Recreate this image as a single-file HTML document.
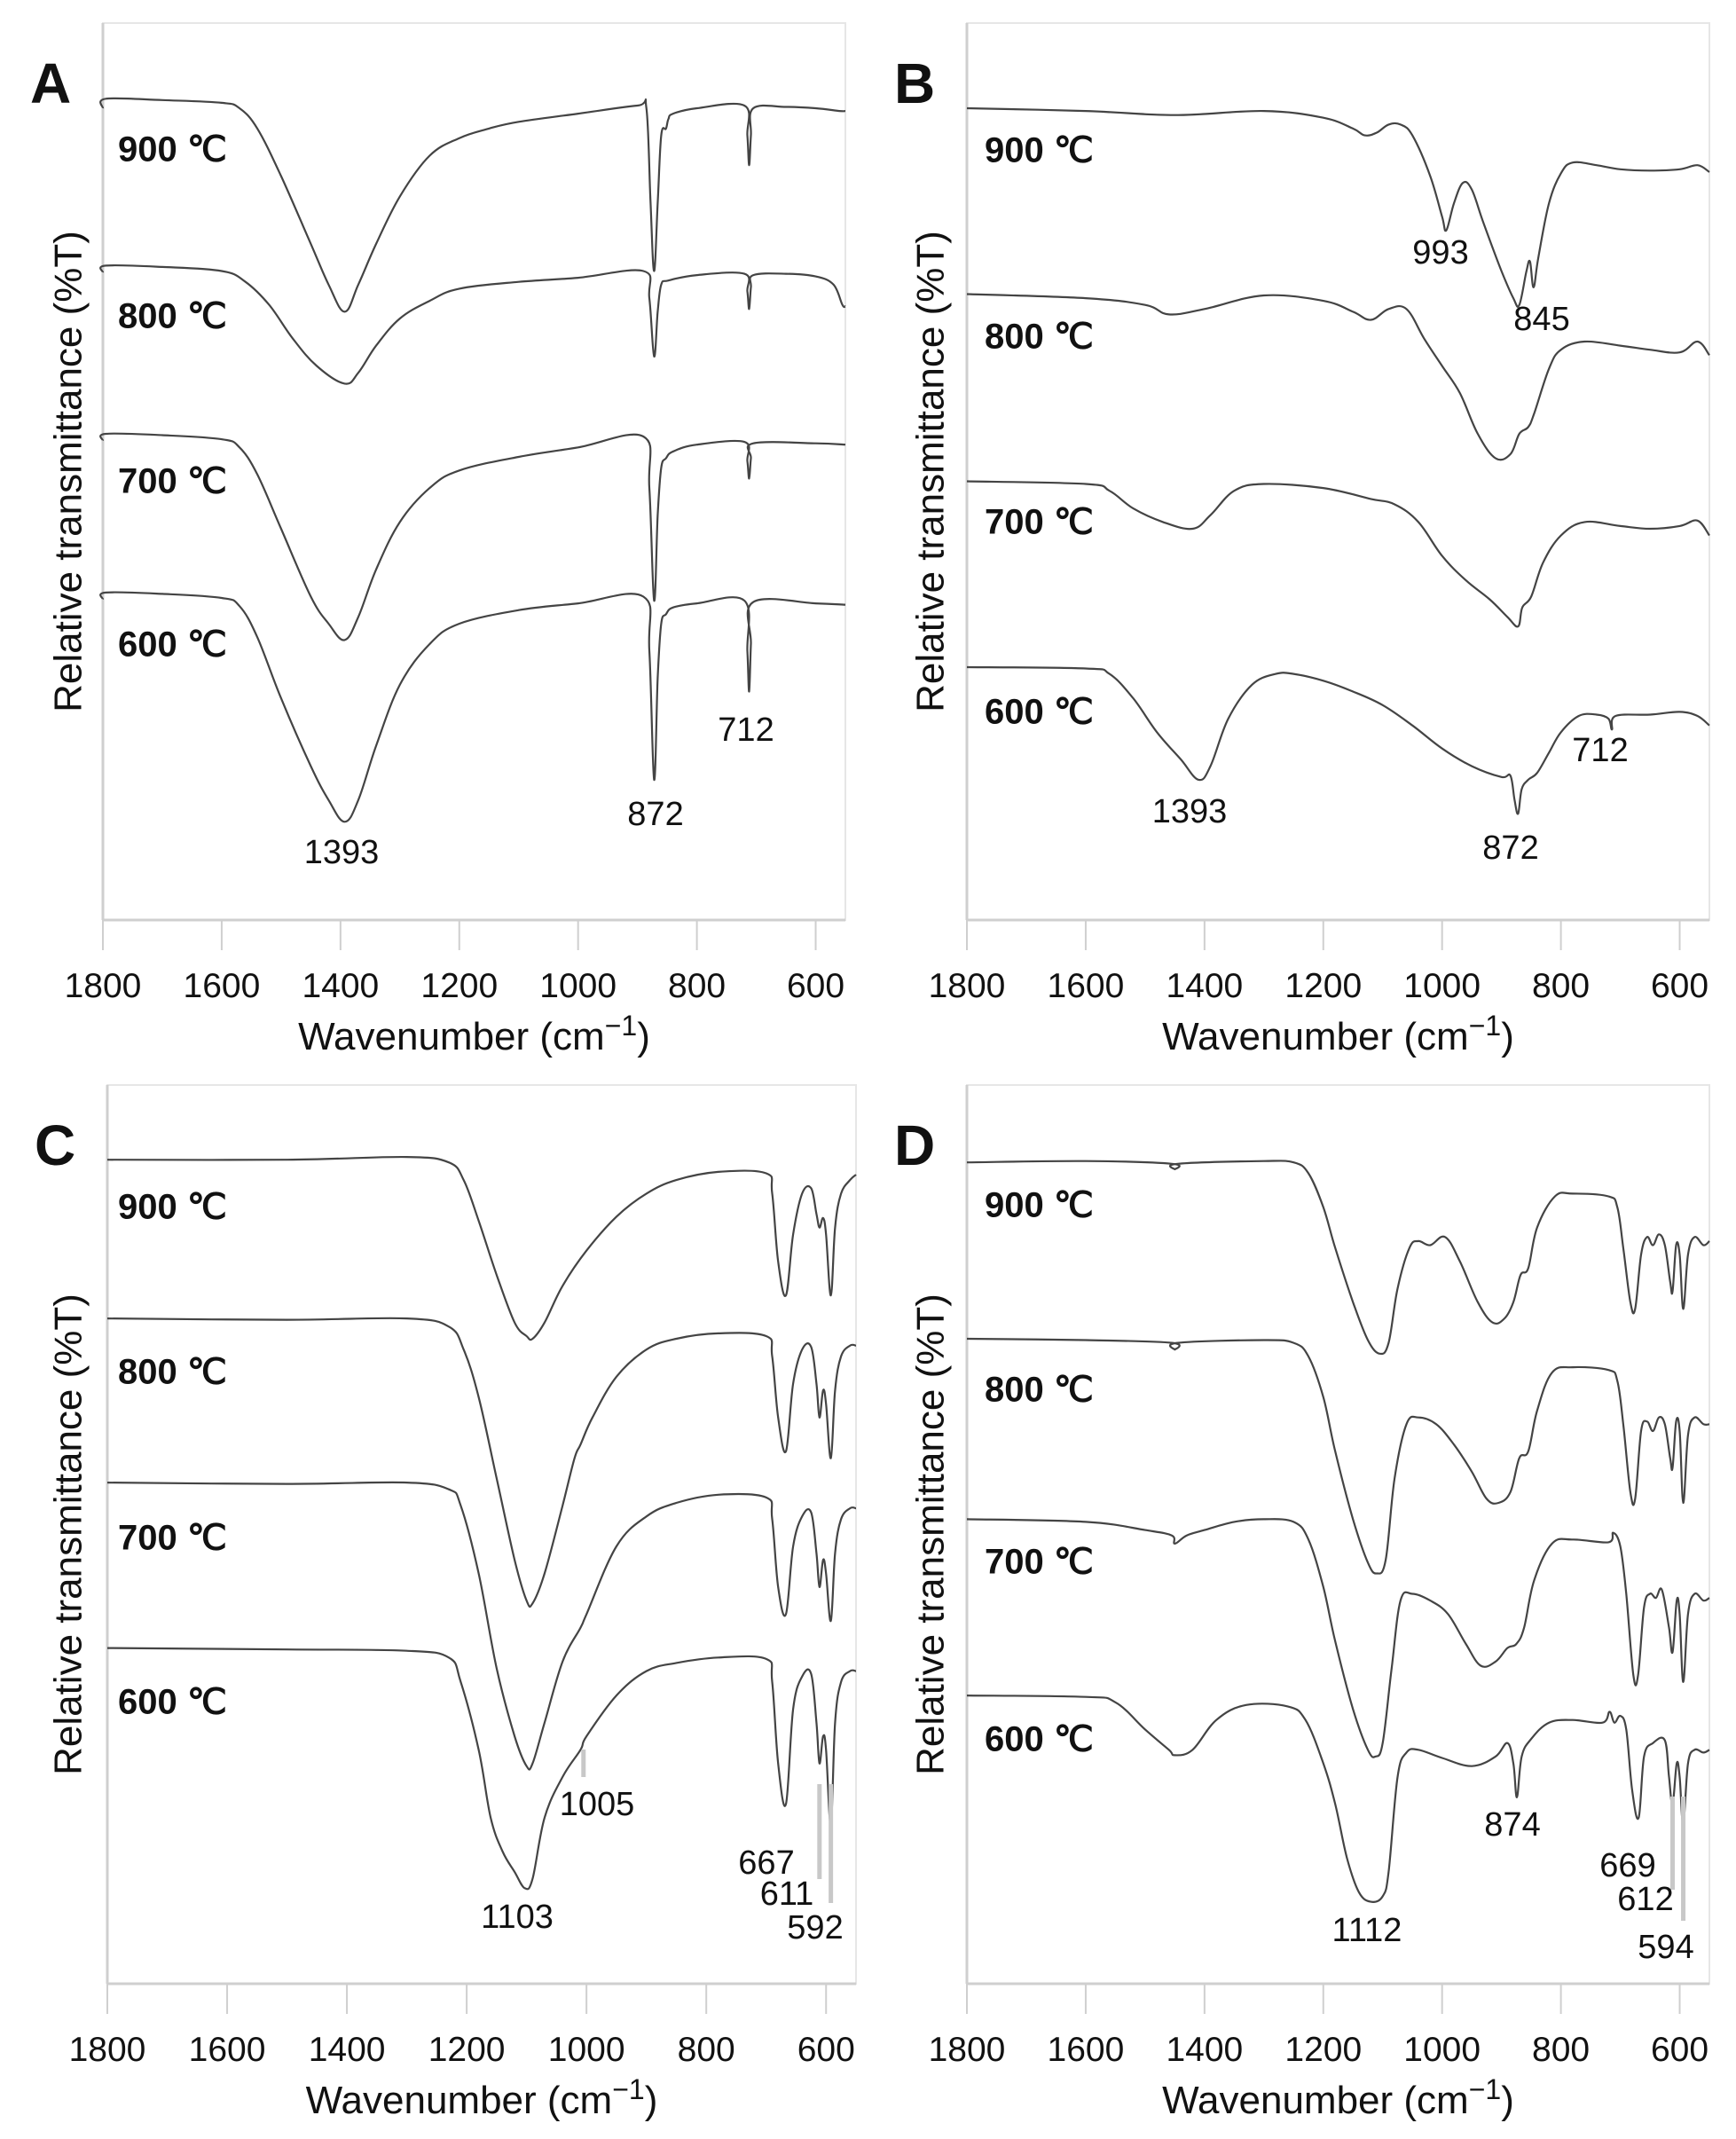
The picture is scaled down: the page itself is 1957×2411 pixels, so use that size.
<!DOCTYPE html>
<html><head><meta charset="utf-8"><style>
body{margin:0;background:#fff}
svg{display:block}
text{font-family:"Liberation Sans",Arial,sans-serif;fill:#111}
</style></head><body>
<svg id="fig" width="1957" height="2411" viewBox="0 0 1957 2411" xmlns="http://www.w3.org/2000/svg"></svg>
<script>
const NS="http://www.w3.org/2000/svg";
const xTicks=[1800,1600,1400,1200,1000,800,600];
const temps=["900 ℃","800 ℃","700 ℃","600 ℃"];
// Panel A spectra: [wavenumber, relative transmittance]
const A900=[[1800,60.3],[1795,61],[1700,60.9],[1600,60.7],[1570,60.3],[1540,58.8],[1500,55.3],[1450,50.3],[1420,47.3],[1393,45.3],[1370,47.3],[1340,50.3],[1300,53.8],[1250,56.8],[1200,58.1],[1150,58.8],[1100,59.3],[1000,59.9],[900,60.5],[885,60.3],[878,53.3],[872,48.3],[866,53.3],[860,58.3],[852,58.8],[848,59.5],[840,59.9],[800,60.3],[720,60.5],[715,58.3],[712,56.1],[709,58.3],[705,60.3],[650,60.4],[600,60.3],[560,60.1],[550,60.1]];
const A800=[[1800,48.2],[1795,48.7],[1700,48.6],[1600,48.3],[1560,47.5],[1520,45.8],[1480,43.3],[1440,41.3],[1393,40],[1370,40.8],[1340,42.8],[1300,44.8],[1250,46.1],[1200,47],[1100,47.5],[1000,47.8],[890,48.3],[880,46.3],[872,42],[866,45.3],[860,47.3],[848,47.6],[800,48],[720,48.1],[715,46.8],[712,45.5],[709,47.1],[705,48],[650,48.1],[600,47.9],[570,47.3],[555,45.8],[550,45.7]];
const A700=[[1800,35.8],[1795,36.3],[1700,36.2],[1600,35.9],[1570,35.3],[1540,33.3],[1500,29.3],[1450,24.3],[1420,22.3],[1393,21.1],[1370,22.8],[1340,26.3],[1300,29.8],[1250,32.3],[1200,33.6],[1100,34.6],[1000,35.3],[890,36.1],[880,32.3],[872,24],[866,30.3],[860,33.8],[852,34.5],[840,35],[800,35.5],[720,35.7],[715,34.3],[712,33],[709,34.5],[705,35.6],[600,35.6],[550,35.5]];
const A600=[[1800,24.1],[1795,24.6],[1700,24.5],[1600,24.2],[1570,23.6],[1540,21.3],[1500,16.8],[1450,11.8],[1420,9.3],[1393,7.7],[1370,9.3],[1340,13.3],[1300,17.8],[1250,20.8],[1200,22.3],[1100,23.3],[1000,23.8],[890,24.3],[880,20.3],[872,10.8],[866,18.3],[860,22.3],[852,23],[840,23.5],[800,23.8],[720,24],[715,20.3],[712,17.3],[709,20.8],[705,23.9],[600,23.8],[550,23.7]];
// Panel B
const B900=[[1800,60.3],[1600,60.1],[1450,59.8],[1300,60.1],[1200,59.6],[1150,58.8],[1130,58.3],[1110,58.5],[1090,59.1],[1070,59.1],[1050,58.3],[1020,55.3],[1000,52.3],[993,51.3],[980,53.3],[965,54.8],[950,54.3],[930,51.8],[900,48.3],[880,46.3],[870,45.8],[858,48.3],[852,49],[846,47.1],[838,49.3],[820,53.3],[800,55.5],[780,56.3],[740,56.1],[700,55.8],[650,55.7],[600,55.8],[570,56.1],[550,55.6]];
const B800=[[1800,46.6],[1600,46.3],[1500,45.8],[1460,45.1],[1400,45.5],[1300,46.5],[1200,46.1],[1150,45.3],[1120,44.7],[1090,45.5],[1060,45.5],[1030,43.3],[1000,41.3],[970,39.3],[940,36.3],[910,34.5],[885,34.8],[870,36.3],[855,36.8],[845,37.8],[820,41.1],[800,42.5],[760,43.1],[700,42.8],[650,42.5],[600,42.3],[570,43.1],[550,42.1]];
const B700=[[1800,32.8],[1600,32.6],[1560,32.1],[1520,30.8],[1470,29.8],[1420,29.3],[1390,30.3],[1350,32.1],[1300,32.6],[1200,32.3],[1120,31.5],[1080,31.1],[1040,29.8],[1000,27.3],[960,25.5],[920,24.1],[890,22.8],[872,22.1],[865,23.5],[850,24.3],[830,26.8],[800,28.8],[760,29.8],[700,29.5],[650,29.3],[600,29.5],[570,29.9],[550,28.8]];
const B600=[[1800,19.1],[1600,19],[1560,18.6],[1520,16.8],[1480,14.3],[1440,12.3],[1410,10.8],[1390,11.8],[1360,15.3],[1320,17.8],[1280,18.6],[1250,18.6],[1200,18.1],[1150,17.3],[1100,16.3],[1050,14.8],[1000,13.1],[950,11.8],[900,11],[885,11.1],[878,9.3],[872,8.3],[866,10.1],[855,10.8],[840,11.3],[820,12.8],[800,14.3],[770,15.5],[740,15.6],[720,15.3],[714,14.5],[708,15.5],[650,15.6],[600,15.8],[570,15.5],[550,14.8]];
// Panel C
const C900=[[1800,59.7],[1500,59.7],[1300,59.9],[1230,59.5],[1205,58.2],[1180,55.2],[1150,51.2],[1120,47.7],[1100,46.7],[1090,46.5],[1070,47.7],[1040,50.4],[1000,53],[950,55.5],[900,57.2],[850,58.2],[780,58.8],[700,58.7],[690,57.2],[680,52.2],[667,49.7],[655,54.2],[640,57.2],[625,57.6],[616,55.7],[611,54.7],[605,55.4],[600,54.2],[592,49.7],[585,54.7],[575,57.2],[560,58.2],[550,58.6]];
const C800=[[1800,48],[1500,47.9],[1300,48],[1230,47.4],[1205,45.7],[1180,42.2],[1150,36.2],[1120,30.2],[1100,27.2],[1090,27],[1070,29.2],[1040,34.2],[1020,37.7],[1010,38.7],[990,40.7],[950,43.7],[900,45.7],[850,46.5],[780,46.9],[700,46.7],[690,45.2],[680,40.7],[667,38.2],[655,43.2],[640,45.7],[625,45.9],[616,43.2],[611,40.7],[605,42.7],[600,41.7],[592,37.7],[585,42.7],[575,45.2],[560,46],[550,46]];
const C700=[[1800,35.9],[1500,35.8],[1300,35.9],[1230,35.4],[1210,34.2],[1180,29.2],[1150,22.2],[1120,17.2],[1100,15],[1090,15.2],[1070,18.2],[1040,22.7],[1010,25.2],[1000,26.2],[950,31.2],[900,33.4],[850,34.4],[780,35],[700,34.8],[690,33.2],[680,28.2],[667,26.2],[655,31.2],[640,33.4],[625,33.7],[616,30.7],[611,28.2],[605,30.2],[600,29.2],[592,25.7],[585,30.7],[575,33.2],[560,34],[550,34]];
const C600=[[1800,23.7],[1500,23.6],[1300,23.5],[1230,23],[1210,21.2],[1180,16.2],[1160,11.2],[1140,8.7],[1120,7.2],[1103,6],[1090,6.7],[1070,11.2],[1040,14.2],[1010,16.2],[1000,17.2],[950,20.2],[900,22],[850,22.6],[780,23],[700,22.9],[690,21.2],[680,15.2],[667,12.2],[655,19.2],[640,21.6],[625,21.8],[616,18.2],[611,15.2],[605,17.2],[600,16.2],[592,10.7],[585,18.2],[575,21.2],[560,22],[550,22]];
// Panel D
const D900=[[1800,59.5],[1600,59.6],[1455,59.4],[1450,59],[1445,59.4],[1300,59.6],[1250,59.5],[1225,58.7],[1200,56.2],[1180,53.2],[1150,49.2],[1125,46.4],[1105,45.4],[1090,46.2],[1075,50.2],[1055,53.2],[1040,53.7],[1020,53.4],[995,54],[970,52.2],[940,49.2],[915,47.7],[895,48],[880,49.2],[868,51.2],[855,51.7],[840,54.7],[810,57],[780,57.2],[720,57],[705,56.2],[695,53.2],[683,49.2],[675,48.7],[665,52.7],[655,54],[645,53.4],[635,54.2],[625,53.4],[616,50.7],[612,50],[606,53.4],[600,52.7],[594,48.7],[586,52.7],[575,54],[560,53.4],[550,53.7]];
const D800=[[1800,46.5],[1600,46.4],[1455,46.2],[1450,45.7],[1445,46.2],[1300,46.4],[1250,46.2],[1225,45.2],[1200,42.2],[1180,38.2],[1150,33.2],[1125,30],[1110,29.2],[1095,30.2],[1080,36.2],[1060,40.2],[1040,40.7],[1010,40.2],[980,38.7],[950,36.7],[925,34.7],[905,34.4],[885,35.2],[870,37.7],[855,38.2],[840,41.2],[815,44],[780,44.4],[720,44.2],[705,43.4],[695,40.2],[683,35.2],[675,34.7],[665,39.7],[655,40.4],[645,39.7],[635,40.7],[625,40.2],[616,37.7],[612,37],[606,40.4],[600,39.7],[594,34.4],[586,39.4],[575,40.7],[560,40.2],[550,40.2]];
const D700=[[1800,33.2],[1600,33],[1500,32.4],[1455,32],[1450,31.4],[1430,32],[1400,32.4],[1350,33],[1300,33.2],[1250,33],[1225,31.7],[1200,28.2],[1180,24.2],[1150,19.2],[1125,16.2],[1112,15.7],[1100,16.7],[1085,22.2],[1070,27.2],[1050,27.7],[1020,27.2],[990,26.2],[960,24],[935,22.4],[910,22.7],[890,23.7],[875,24],[862,25.2],[845,28.7],[815,31.4],[780,31.7],[720,31.5],[712,32.2],[700,31.2],[690,27.7],[678,21.7],[670,21.7],[660,26.7],[650,27.7],[640,27.4],[630,28],[618,25.2],[612,23.4],[605,27.2],[600,26.2],[594,21.2],[586,26.2],[575,27.7],[560,27.2],[550,27.4]];
const D600=[[1800,20.2],[1600,20.1],[1550,19.7],[1500,17.7],[1460,16.2],[1450,15.8],[1420,16.2],[1380,18.4],[1330,19.5],[1260,19.4],[1230,18.4],[1200,15.2],[1180,12.2],[1160,8.2],[1140,5.7],[1120,5],[1100,5.4],[1090,7.2],[1075,14.2],[1060,16],[1040,16.2],[1000,15.6],[950,15],[910,15.7],[890,16.7],[880,15.2],[874,12.7],[866,15.7],[850,17],[820,18.2],[780,18.4],[730,18.2],[718,19],[710,18.2],[700,18.7],[690,17.7],[680,13.2],[669,11.2],[660,15.7],[645,16.7],[625,16.9],[618,14.2],[612,12.2],[605,15.2],[600,14.2],[594,10.7],[586,15.2],[575,16.2],[560,16],[550,16.2]];
const peaksA=[1393,872,712], peaksB=[993,845,1393,872,712], peaksC=[1103,1005,667,611,592], peaksD=[1112,874,669,612,594];

const svg=document.getElementById('fig');
function el(tag,attrs,parent){const e=document.createElementNS(NS,tag);for(const k in attrs)e.setAttribute(k,attrs[k]);(parent||svg).appendChild(e);return e;}

const panels=[
 {id:'a',letter:'A',L:116,R:953,T:26,B:1037,base:1044,unit:15.29,series:[A900,A800,A700,A600],
  tx:133,ty:[171,359,545,729],ylx:80,
  peaks:peaksA,pl:[[385,963],[739,920],[841,825]],lines:[]},
 {id:'b',letter:'B',L:1090,R:1927,T:26,B:1037,base:1044,unit:15.29,series:[B900,B800,B700,B600],
  tx:1110,ty:[172,382,591,805],ylx:1052,
  peaks:peaksB,pl:[[1624,287],[1738,362],[1341,917],[1703,958],[1804,848]],lines:[]},
 {id:'c',letter:'C',L:121,R:965,T:1223,B:2236,base:2220,unit:15.29,series:[C900,C800,C700,C600],
  tx:133,ty:[1363,1549,1736,1921],ylx:80,
  peaks:peaksC,pl:[[583,2163],[673,2036],[864,2102],[887,2137],[919,2175]],
  lines:[[1005,1972,2003],[611,2011,2118],[592,2011,2145]]},
 {id:'d',letter:'D',L:1090,R:1927,T:1223,B:2236,base:2220,unit:15.29,series:[D900,D800,D700,D600],
  tx:1110,ty:[1361,1569,1763,1963],ylx:1052,
  peaks:peaksD,pl:[[1541,2178],[1705,2059],[1835,2105],[1855,2143],[1878,2197]],
  lines:[[612,2025,2130],[594,2025,2165]]}
];

function smoothPath(pts){
  let d='M'+pts[0][0].toFixed(1)+' '+pts[0][1].toFixed(1);
  const k=0.18;
  for(let i=0;i<pts.length-1;i++){
    const p0=pts[i-1]||pts[i],p1=pts[i],p2=pts[i+1],p3=pts[i+2]||p2;
    const c1x=p1[0]+(p2[0]-p0[0])*k,c1y=p1[1]+(p2[1]-p0[1])*k;
    const c2x=p2[0]-(p3[0]-p1[0])*k,c2y=p2[1]-(p3[1]-p1[1])*k;
    d+=' C'+c1x.toFixed(1)+' '+c1y.toFixed(1)+' '+c2x.toFixed(1)+' '+c2y.toFixed(1)+' '+p2[0].toFixed(1)+' '+p2[1].toFixed(1);
  }
  return d;
}

panels.forEach(p=>{
  const step=(p.R-p.L)/(1800-550);
  const xs=w=>p.L+(1800-w)*step;
  const ys=v=>p.base-v*p.unit;
  const g=el('g',{});
  
  
  const fr=el('rect',{x:p.L,y:p.T,width:p.R-p.L,height:p.B-p.T,fill:'none',stroke:'#e6e6e6','stroke-width':2},g);
  
  
  const xa=el('line',{x1:p.L,y1:p.B,x2:p.R,y2:p.B,stroke:'#cfcfcf','stroke-width':3},g);
  
  
  const ya=el('line',{x1:p.L,y1:p.T,x2:p.L,y2:p.B,stroke:'#cfcfcf','stroke-width':3},g);
  
  
  xTicks.forEach(t=>{
    const tk=el('line',{x1:xs(t),y1:p.B,x2:xs(t),y2:p.B+34,stroke:'#cfcfcf','stroke-width':2},g);
    
    
    const tl=el('text',{x:xs(t),y:p.B+87,'font-size':39,'text-anchor':'middle'},g);
    tl.textContent=t;
    
    
  });
  const xt=el('text',{x:(p.L+p.R)/2,y:p.B+146,'font-size':44,'text-anchor':'middle'},g);
  xt.innerHTML='Wavenumber (cm<tspan font-size="32" dy="-16">−1</tspan><tspan dy="16">)</tspan>';
  
  
  const cy=(p.T+p.B)/2;
  const yt=el('text',{x:p.ylx,y:cy,'font-size':44,'text-anchor':'middle',transform:`rotate(-90 ${p.ylx} ${cy})`,'dominant-baseline':'middle'},g);
  yt.textContent='Relative transmittance (%T)';
  
  
  const lt=el('text',{x:p.L-82,y:p.T+90,'font-size':64,'font-weight':'bold'},g);
  lt.textContent=p.letter;
  
  
  p.series.forEach((s,i)=>{
    const pts=s.map(pt=>[xs(pt[0]),ys(pt[1])]);
    const path=el('path',{d:smoothPath(pts),fill:'none',stroke:'#444','stroke-width':2.2,'stroke-linejoin':'round'},g);
    
    
    const tl=el('text',{x:p.tx,y:p.ty[i],'font-size':40,'font-weight':'bold','dominant-baseline':'middle'},g);
    tl.textContent=temps[i];
    
    
  });
  p.lines.forEach(l=>{
    const ln=el('line',{x1:xs(l[0]),y1:l[1],x2:xs(l[0]),y2:l[2],stroke:'#c8c8c8','stroke-width':5},g);
    
    
  });
  p.peaks.forEach((pk,i)=>{
    const t=el('text',{x:p.pl[i][0],y:p.pl[i][1],'font-size':38,'text-anchor':'middle','dominant-baseline':'middle'},g);
    t.textContent=pk;
    
    
  });
});
</script>
</body></html>
